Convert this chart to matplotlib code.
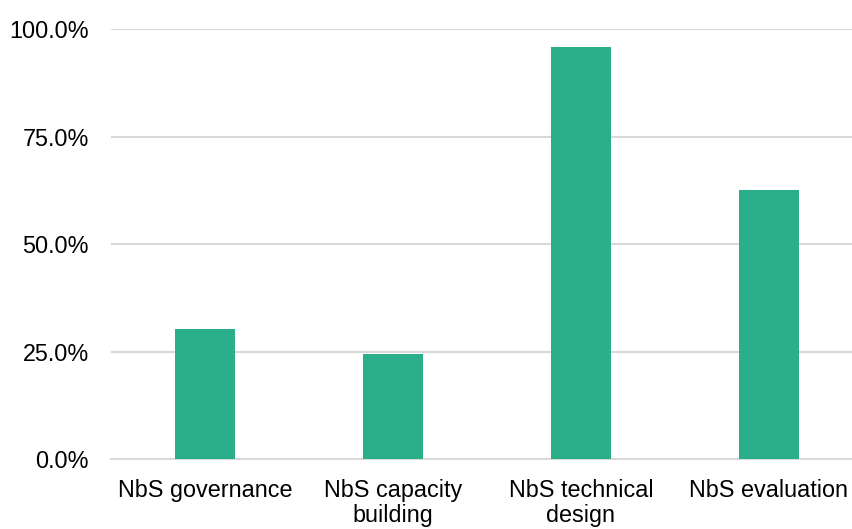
import matplotlib
matplotlib.use("Agg")
import matplotlib.pyplot as plt
from matplotlib.ticker import FuncFormatter

categories = ["NbS governance", "NbS capacity\nbuilding", "NbS technical\ndesign", "NbS evaluation"]
values = [30.3, 24.5, 95.8, 62.6]
yticks = [0, 25, 50, 75, 100]

plt.rcParams['font.family'] = ['Liberation Sans', 'DejaVu Sans']

fig = plt.figure(figsize=(8.53, 5.29), dpi=100)
W, H = 853, 529
left, right = 111, 863
bottom, top = 459.3, 29.3
ax = fig.add_axes([left / W, (H - bottom) / H, (right - left) / W, (bottom - top) / H])

x = range(len(categories))
ax.bar(x, values, width=0.314, color="#2BAE8A", zorder=3)
ax.set_xlim(-0.5, 3.5)
ax.set_ylim(0, 100)
ax.set_yticks(yticks)
ax.yaxis.set_major_formatter(FuncFormatter(lambda v, p: f"{v:.1f}%"))
ax.set_xticks(list(x))
ax.set_xticklabels(categories, fontsize=16.8, color="#000000", linespacing=1.15)
ax.tick_params(axis='y', length=0, pad=16, labelsize=16.8, labelcolor="#000000")
ax.tick_params(axis='x', length=0, pad=14)
ax.grid(axis='y', color="#d9d9d9", linewidth=1.5, zorder=0)
ax.set_axisbelow(True)
for s in ["top", "right", "left"]:
    ax.spines[s].set_visible(False)
ax.spines["bottom"].set_color("#d9d9d9")
ax.spines["bottom"].set_linewidth(1.5)

fig.savefig("out.png", dpi=100)
